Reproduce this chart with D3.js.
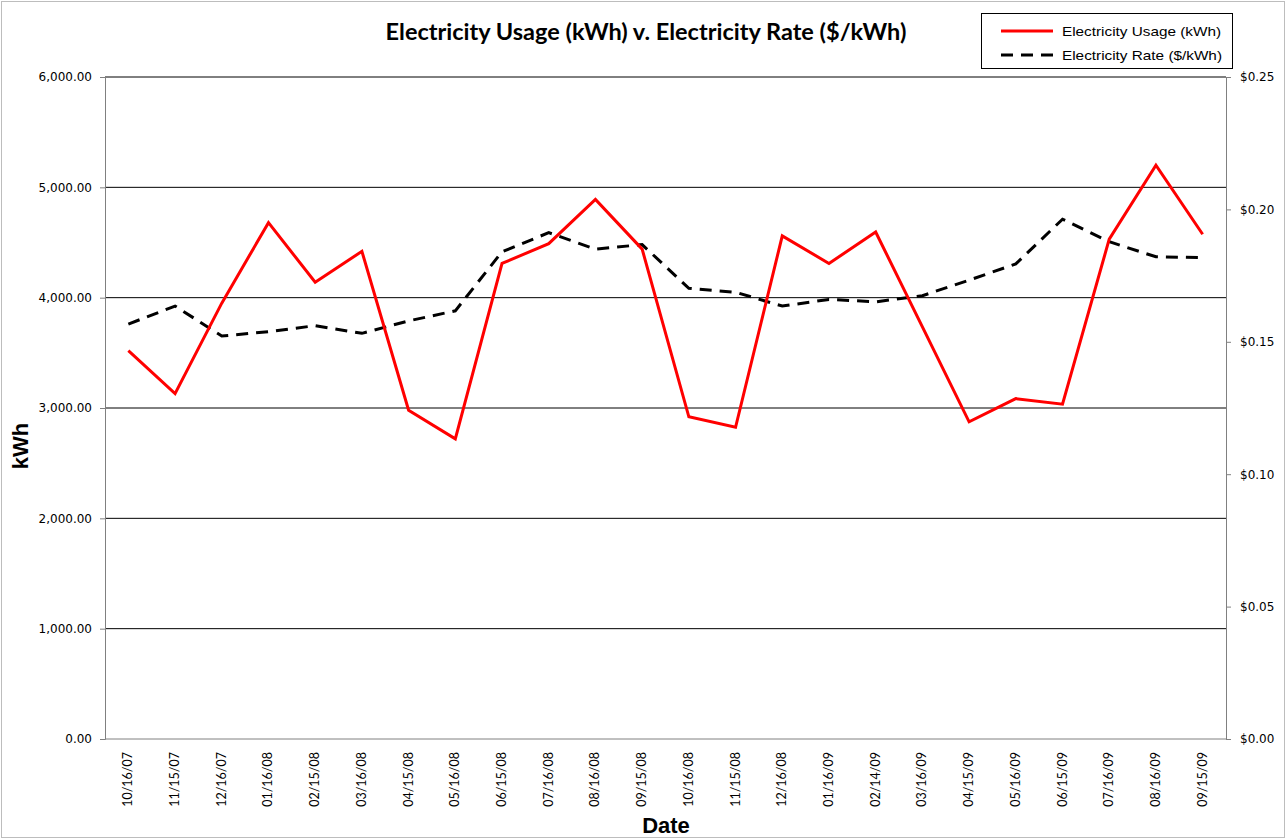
<!DOCTYPE html>
<html>
<head>
<meta charset="utf-8">
<script src="https://cdn.jsdelivr.net/npm/d3@7"></script>
<style>
  body { margin: 0; background: #fff; }
  svg { display: block; }
</style>
</head>
<body>
<svg id="chart" width="1286" height="840"></svg>
<script>
// data
var dates = ["10/16/07","11/15/07","12/16/07","01/16/08","02/15/08","03/16/08","04/15/08","05/16/08",
             "06/15/08","07/16/08","08/16/08","09/15/08","10/16/08","11/15/08","12/16/08","01/16/09",
             "02/14/09","03/16/09","04/15/09","05/16/09","06/15/09","07/16/09","08/16/09","09/15/09"];
var usage = [3520, 3130, 3950, 4680, 4140, 4420, 2980, 2720,
             4310, 4490, 4890, 4440, 2920, 2825, 4560, 4310,
             4595, 3735, 2875, 3085, 3035, 4530, 5200, 4575];
var rate = [0.1567, 0.1635, 0.1522, 0.1538, 0.1561, 0.1532, 0.1579, 0.1617,
            0.1840, 0.1912, 0.1850, 0.1867, 0.1702, 0.1687, 0.1635, 0.1660,
            0.1651, 0.1674, 0.1733, 0.1794, 0.1963, 0.1878, 0.1821, 0.1818];
var usageTicks = [0, 1000, 2000, 3000, 4000, 5000, 6000];
var rateTicks = [0, 0.05, 0.10, 0.15, 0.20, 0.25];

var svg = d3.select("#chart");
var plot = { left: 105, right: 1226, top: 77, bottom: 739 };

// outer border
svg.append("rect")
    .attr("x", 1.5).attr("y", 1.5)
    .attr("width", 1283).attr("height", 836)
    .attr("fill", "#fff")
    .attr("stroke", "#bdbdbd");

var x = d3.scaleBand().domain(dates).range([plot.left, plot.right]);
var yL = d3.scaleLinear().domain([0, 6000]).range([plot.bottom, plot.top]);
var yR = d3.scaleLinear().domain([0, 0.25]).range([plot.bottom, plot.top]);

// gridlines
svg.append("g")
    .selectAll("line")
    .data(usageTicks.filter(d => d > 0))
    .enter()
    .append("line")
    .attr("x1", plot.left).attr("x2", plot.right)
    .attr("y1", d => yL(d)).attr("y2", d => yL(d))
    .attr("stroke", "#000")
    .attr("stroke-width", 1);

// left axis
var leftAxis = svg.append("g")
    .attr("transform", `translate(${plot.left},0)`)
    .call(d3.axisLeft(yL).tickValues(usageTicks).tickSize(5).tickFormat(d3.format(",.2f")));
leftAxis.select(".domain").attr("stroke", "#808080");
leftAxis.selectAll(".tick line").attr("stroke", "#808080");
leftAxis.selectAll("text")
    .attr("font-family", "'DejaVu Sans', Verdana, sans-serif")
    .attr("font-size", 12)
    .attr("fill", "#000")
    .attr("x", -13);

// right axis
var rightAxis = svg.append("g")
    .attr("transform", `translate(${plot.right},0)`)
    .call(d3.axisRight(yR).tickValues(rateTicks).tickSize(5).tickFormat(d3.format("$.2f")));
rightAxis.select(".domain").attr("stroke", "#808080");
rightAxis.selectAll(".tick line").attr("stroke", "#808080");
rightAxis.selectAll("text")
    .attr("font-family", "'DejaVu Sans', Verdana, sans-serif")
    .attr("font-size", 12)
    .attr("fill", "#000")
    .attr("x", 14);

// bottom axis line
svg.append("line")
    .attr("x1", plot.left).attr("x2", plot.right)
    .attr("y1", plot.bottom).attr("y2", plot.bottom)
    .attr("stroke", "#808080");

// x labels (rotated)
svg.append("g")
    .selectAll("text")
    .data(dates)
    .enter()
    .append("text")
    .attr("transform", d => `translate(${x(d) + x.bandwidth() / 2 + 4},${plot.bottom + 13}) rotate(-90)`)
    .attr("text-anchor", "end")
    .attr("font-family", "Lato, 'Open Sans', sans-serif")
    .attr("font-size", 12.5)
    .attr("fill", "#000")
    .text(d => d);

// lines
var cx = d => x(d) + x.bandwidth() / 2;

var usageLine = d3.line()
    .x((d, i) => cx(dates[i]))
    .y(d => yL(d));
var rateLine = d3.line()
    .x((d, i) => cx(dates[i]))
    .y(d => yR(d));

svg.append("path")
    .datum(rate)
    .attr("d", rateLine)
    .attr("fill", "none")
    .attr("stroke", "#000")
    .attr("stroke-width", 3)
    .attr("stroke-dasharray", "12,8");

svg.append("path")
    .datum(usage)
    .attr("d", usageLine)
    .attr("fill", "none")
    .attr("stroke", "#ff0000")
    .attr("stroke-width", 3)
    .attr("stroke-linejoin", "miter");

// title
svg.append("text")
    .attr("x", 646).attr("y", 40)
    .attr("text-anchor", "middle")
    .attr("font-family", "Lato, sans-serif")
    .attr("font-weight", "bold")
    .attr("font-size", 23.5)
    .attr("fill", "#000")
    .text("Electricity Usage (kWh) v. Electricity Rate ($/kWh)");

// axis titles
svg.append("text")
    .attr("transform", "translate(28,446) rotate(-90)")
    .attr("text-anchor", "middle")
    .attr("font-family", "'Liberation Sans', Arial, sans-serif")
    .attr("font-weight", "bold")
    .attr("font-size", 22)
    .text("kWh");

svg.append("text")
    .attr("x", 666).attr("y", 833)
    .attr("text-anchor", "middle")
    .attr("font-family", "'Liberation Sans', Arial, sans-serif")
    .attr("font-weight", "bold")
    .attr("font-size", 22)
    .text("Date");

// legend
var legend = svg.append("g");
legend.append("rect")
    .attr("x", 981.5).attr("y", 13.5)
    .attr("width", 251).attr("height", 55)
    .attr("fill", "#fff")
    .attr("stroke", "#000");

var legendItems = [
    { name: "Electricity Usage (kWh)", color: "#ff0000", dash: null, w: 159 },
    { name: "Electricity Rate ($/kWh)", color: "#000", dash: "12,8", w: 160 }
];
legendItems.forEach((item, i) => {
    var ly = 31 + i * 24;
    legend.append("line")
        .attr("x1", 1001).attr("x2", 1053)
        .attr("y1", ly).attr("y2", ly)
        .attr("stroke", item.color)
        .attr("stroke-width", 3)
        .attr("stroke-dasharray", item.dash);
    legend.append("text")
        .attr("x", 1062).attr("y", ly + 5)
        .attr("font-family", "'Liberation Sans', Arial, sans-serif")
        .attr("font-size", 13.5)
        .attr("textLength", item.w)
        .attr("lengthAdjust", "spacingAndGlyphs")
        .attr("fill", "#000")
        .text(item.name);
});
</script>
</body>
</html>
